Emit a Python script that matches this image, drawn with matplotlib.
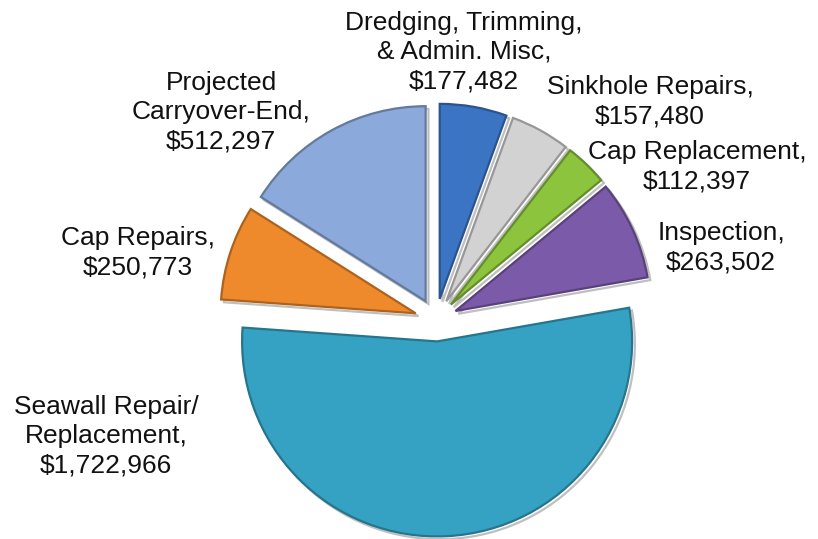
import matplotlib.pyplot as plt
import matplotlib.patheffects as pe
from matplotlib.colors import to_rgb

plt.rcParams['font.family'] = ['Liberation Sans', 'DejaVu Sans']

labels = ["Dredging, Trimming,\n& Admin. Misc", "Sinkhole Repairs", "Cap Replacement",
          "Inspection", "Seawall Repair/\nReplacement", "Cap Repairs",
          "Projected\nCarryover-End"]
values = [177482, 157480, 112397, 263502, 1722966, 250773, 512297]
colors = ["#3b74c2", "#d2d2d2", "#8cc43e", "#7b5aa9", "#35a2c4", "#ee8a2b", "#8ba9da"]

# label centres in pixels (x, y from top)
label_pos = [(464, 52), (650, 102), (697, 167), (721, 248), (106, 436), (138, 253), (221, 112)]

W, H = 818, 539
cx, cy, R = 436, 320, 195

fig = plt.figure(figsize=(W / 100, H / 100), dpi=100)
ax = fig.add_axes([0, 0, 1, 1])


def shade(c, f):
    r, g, b = to_rgb(c)
    return (r * f, g * f, b * f)


wedges, _ = ax.pie(values, colors=colors, startangle=90, counterclock=False,
                   explode=[0.11] * len(values), radius=1.0,
                   wedgeprops=dict(linewidth=1.6))
for w, c in zip(wedges, colors):
    w.set_edgecolor(shade(c, 0.72))
    w.set_path_effects([pe.SimpleLineShadow(offset=(2, -2), alpha=0.25), pe.Normal()])

ax.set_xlim(-cx / R, (W - cx) / R)
ax.set_ylim(-(H - cy) / R, cy / R)
ax.set_aspect('auto')
ax.axis('off')

for lab, v, (px, py) in zip(labels, values, label_pos):
    ax.text(px / W, 1 - py / H, f"{lab},\n${v:,}", transform=fig.transFigure,
            ha='center', va='center', fontsize=19, color='#111111', linespacing=1.27)

fig.savefig("out.png", dpi=100)
